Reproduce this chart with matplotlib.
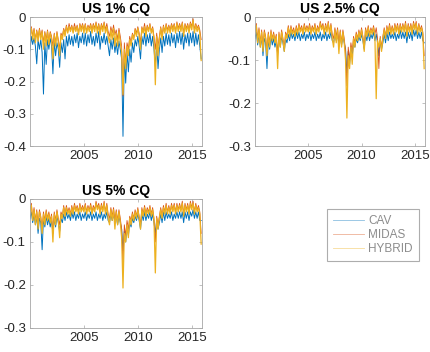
import numpy as np
import matplotlib
matplotlib.use("Agg")
import matplotlib.pyplot as plt

plt.rcParams['font.family'] = ['Liberation Sans', 'DejaVu Sans']

# sample dates: 8 per year, 2000.0 ... 2015.875
years = np.arange(2000, 2016, 0.125)

titles = ["US 1% CQ", "US 2.5% CQ", "US 5% CQ"]
series_names = ["CAV", "MIDAS", "HYBRID"]
colors = ["#0072BD", "#D95319", "#EDB120"]
xticks = [2005, 2010, 2015]
yticks_1 = [0, -0.1, -0.2, -0.3, -0.4]
yticks_2 = [0, -0.1, -0.2, -0.3]
ylabels_1 = ["0", "-0.1", "-0.2", "-0.3", "-0.4"]
ylabels_2 = ["0", "-0.1", "-0.2", "-0.3"]

# ---- US 1% ----
cav_1 = [
    -0.105, -0.06, -0.085, -0.065, -0.09, -0.145, -0.07, -0.10,
    -0.07, -0.11, -0.239, -0.08, -0.147, -0.07, -0.10, -0.065,
    -0.09, -0.176, -0.075, -0.12, -0.08, -0.10, -0.156, -0.08,
    -0.11, -0.07, -0.13, -0.06, -0.09, -0.055, -0.085, -0.06,
    -0.09, -0.055, -0.08, -0.05, -0.095, -0.06, -0.08, -0.05,
    -0.085, -0.05, -0.09, -0.055, -0.08, -0.045, -0.085, -0.06,
    -0.09, -0.05, -0.08, -0.045, -0.10, -0.06, -0.08, -0.05,
    -0.085, -0.06, -0.09, -0.12, -0.07, -0.10, -0.065, -0.11,
    -0.08, -0.116, -0.075, -0.10, -0.13, -0.37, -0.12, -0.205,
    -0.11, -0.17, -0.10, -0.14, -0.08, -0.11, -0.07, -0.09,
    -0.06, -0.09, -0.13, -0.06, -0.085, -0.05, -0.09, -0.055,
    -0.08, -0.05, -0.09, -0.06, -0.10, -0.153, -0.08, -0.16,
    -0.10, -0.065, -0.11, -0.06, -0.09, -0.05, -0.085, -0.055,
    -0.09, -0.05, -0.08, -0.055, -0.095, -0.05, -0.08, -0.045,
    -0.085, -0.05, -0.10, -0.055, -0.08, -0.05, -0.09, -0.05,
    -0.08, -0.045, -0.09, -0.05, -0.085, -0.055, -0.09, -0.13,
]
midas_1 = [
    -0.05, -0.03, -0.06, -0.035, -0.07, -0.04, -0.065, -0.035,
    -0.06, -0.04, -0.08, -0.045, -0.07, -0.04, -0.075, -0.045,
    -0.06, -0.09, -0.05, -0.08, -0.045, -0.07, -0.10, -0.05,
    -0.06, -0.035, -0.05, -0.025, -0.045, -0.02, -0.04, -0.025,
    -0.045, -0.02, -0.04, -0.025, -0.05, -0.02, -0.035, -0.02,
    -0.04, -0.02, -0.045, -0.025, -0.035, -0.02, -0.04, -0.02,
    -0.035, -0.015, -0.04, -0.02, -0.045, -0.02, -0.035, -0.015,
    -0.04, -0.02, -0.045, -0.06, -0.03, -0.05, -0.025, -0.055,
    -0.04, -0.07, -0.035, -0.06, -0.09, -0.245, -0.08, -0.14,
    -0.08, -0.10, -0.06, -0.08, -0.05, -0.065, -0.035, -0.05,
    -0.03, -0.05, -0.08, -0.03, -0.045, -0.02, -0.05, -0.025,
    -0.04, -0.02, -0.045, -0.03, -0.06, -0.10, -0.05, -0.09,
    -0.06, -0.03, -0.06, -0.025, -0.045, -0.02, -0.04, -0.025,
    -0.04, -0.02, -0.035, -0.02, -0.045, -0.015, -0.035, -0.02,
    -0.035, -0.015, -0.05, -0.02, -0.035, -0.02, -0.04, -0.015,
    -0.03, -0.005, -0.04, -0.02, -0.035, -0.025, -0.04, -0.07,
]
hybrid_1 = [
    -0.06, -0.035, -0.07, -0.04, -0.08, -0.045, -0.075, -0.04,
    -0.07, -0.045, -0.10, -0.05, -0.09, -0.045, -0.085, -0.05,
    -0.07, -0.13, -0.055, -0.09, -0.05, -0.08, -0.12, -0.055,
    -0.07, -0.04, -0.06, -0.03, -0.05, -0.03, -0.045, -0.03,
    -0.05, -0.03, -0.045, -0.03, -0.055, -0.025, -0.045, -0.025,
    -0.05, -0.025, -0.05, -0.03, -0.045, -0.025, -0.05, -0.025,
    -0.045, -0.02, -0.05, -0.025, -0.055, -0.025, -0.045, -0.02,
    -0.05, -0.03, -0.06, -0.08, -0.04, -0.07, -0.035, -0.09,
    -0.05, -0.09, -0.045, -0.08, -0.11, -0.24, -0.10, -0.16,
    -0.09, -0.12, -0.07, -0.09, -0.055, -0.07, -0.04, -0.06,
    -0.035, -0.06, -0.10, -0.035, -0.05, -0.03, -0.06, -0.03,
    -0.045, -0.025, -0.05, -0.035, -0.07, -0.21, -0.06, -0.12,
    -0.07, -0.035, -0.07, -0.03, -0.05, -0.025, -0.05, -0.03,
    -0.05, -0.025, -0.045, -0.025, -0.05, -0.02, -0.045, -0.025,
    -0.045, -0.02, -0.06, -0.025, -0.045, -0.025, -0.05, -0.02,
    -0.04, -0.01, -0.05, -0.025, -0.045, -0.03, -0.05, -0.135,
]

# ---- US 2.5% ----
cav_2 = [
    -0.05, -0.035, -0.065, -0.04, -0.07, -0.045, -0.09, -0.05,
    -0.06, -0.12, -0.05, -0.075, -0.045, -0.065, -0.05, -0.07,
    -0.055, -0.085, -0.05, -0.07, -0.045, -0.06, -0.08, -0.05,
    -0.06, -0.04, -0.055, -0.035, -0.05, -0.04, -0.055, -0.035,
    -0.05, -0.035, -0.055, -0.04, -0.05, -0.035, -0.055, -0.04,
    -0.05, -0.035, -0.055, -0.04, -0.05, -0.035, -0.055, -0.04,
    -0.05, -0.035, -0.055, -0.04, -0.05, -0.035, -0.055, -0.04,
    -0.05, -0.035, -0.055, -0.06, -0.04, -0.055, -0.04, -0.06,
    -0.045, -0.065, -0.045, -0.06, -0.075, -0.13, -0.08, -0.11,
    -0.07, -0.09, -0.06, -0.07, -0.05, -0.06, -0.045, -0.055,
    -0.04, -0.055, -0.075, -0.04, -0.055, -0.035, -0.055, -0.04,
    -0.05, -0.035, -0.055, -0.04, -0.06, -0.09, -0.055, -0.075,
    -0.06, -0.04, -0.06, -0.035, -0.055, -0.035, -0.05, -0.04,
    -0.05, -0.035, -0.055, -0.04, -0.05, -0.03, -0.05, -0.035,
    -0.05, -0.035, -0.06, -0.035, -0.05, -0.035, -0.055, -0.03,
    -0.045, -0.03, -0.05, -0.035, -0.05, -0.035, -0.055, -0.06,
]
midas_2 = [
    -0.03, -0.015, -0.05, -0.025, -0.06, -0.03, -0.07, -0.03,
    -0.045, -0.08, -0.035, -0.06, -0.03, -0.05, -0.035, -0.055,
    -0.04, -0.09, -0.035, -0.06, -0.03, -0.05, -0.07, -0.035,
    -0.045, -0.02, -0.04, -0.02, -0.035, -0.025, -0.04, -0.02,
    -0.035, -0.015, -0.03, -0.02, -0.035, -0.015, -0.03, -0.02,
    -0.03, -0.015, -0.035, -0.02, -0.03, -0.015, -0.035, -0.02,
    -0.03, -0.01, -0.025, -0.015, -0.035, -0.015, -0.03, -0.01,
    -0.035, -0.015, -0.04, -0.05, -0.025, -0.045, -0.025, -0.06,
    -0.03, -0.06, -0.03, -0.05, -0.08, -0.16, -0.07, -0.10,
    -0.06, -0.08, -0.045, -0.06, -0.035, -0.05, -0.03, -0.045,
    -0.025, -0.045, -0.07, -0.025, -0.04, -0.02, -0.04, -0.025,
    -0.035, -0.02, -0.04, -0.025, -0.05, -0.12, -0.045, -0.07,
    -0.045, -0.025, -0.045, -0.02, -0.035, -0.015, -0.035, -0.02,
    -0.035, -0.015, -0.03, -0.015, -0.035, -0.015, -0.03, -0.015,
    -0.03, -0.01, -0.04, -0.015, -0.03, -0.015, -0.035, -0.01,
    -0.025, -0.01, -0.035, -0.015, -0.03, -0.02, -0.035, -0.09,
]
hybrid_2 = [
    -0.035, -0.02, -0.06, -0.03, -0.07, -0.035, -0.08, -0.035,
    -0.05, -0.09, -0.04, -0.07, -0.035, -0.055, -0.04, -0.06,
    -0.045, -0.12, -0.04, -0.07, -0.035, -0.055, -0.08, -0.04,
    -0.05, -0.025, -0.045, -0.025, -0.04, -0.03, -0.045, -0.025,
    -0.04, -0.02, -0.035, -0.025, -0.04, -0.02, -0.035, -0.025,
    -0.035, -0.02, -0.04, -0.025, -0.035, -0.02, -0.04, -0.025,
    -0.035, -0.015, -0.03, -0.02, -0.04, -0.02, -0.035, -0.015,
    -0.04, -0.02, -0.05, -0.07, -0.03, -0.06, -0.03, -0.085,
    -0.035, -0.07, -0.035, -0.06, -0.10, -0.235, -0.09, -0.12,
    -0.07, -0.11, -0.05, -0.07, -0.04, -0.055, -0.035, -0.05,
    -0.03, -0.05, -0.08, -0.03, -0.045, -0.025, -0.045, -0.03,
    -0.04, -0.025, -0.045, -0.19, -0.055, -0.07, -0.05, -0.08,
    -0.05, -0.03, -0.05, -0.025, -0.04, -0.02, -0.04, -0.025,
    -0.04, -0.02, -0.035, -0.02, -0.04, -0.02, -0.035, -0.02,
    -0.035, -0.015, -0.045, -0.02, -0.035, -0.02, -0.04, -0.015,
    -0.03, -0.015, -0.04, -0.02, -0.035, -0.025, -0.04, -0.12,
]

# ---- US 5% ----
cav_3 = [
    -0.045, -0.03, -0.055, -0.035, -0.06, -0.04, -0.08, -0.045,
    -0.055, -0.118, -0.045, -0.065, -0.04, -0.06, -0.045, -0.065,
    -0.05, -0.08, -0.045, -0.065, -0.04, -0.055, -0.075, -0.045,
    -0.055, -0.035, -0.05, -0.03, -0.045, -0.035, -0.05, -0.03,
    -0.045, -0.03, -0.05, -0.035, -0.045, -0.03, -0.05, -0.035,
    -0.045, -0.03, -0.05, -0.035, -0.045, -0.03, -0.05, -0.035,
    -0.045, -0.03, -0.05, -0.035, -0.045, -0.03, -0.05, -0.035,
    -0.045, -0.03, -0.05, -0.055, -0.035, -0.05, -0.035, -0.055,
    -0.04, -0.06, -0.04, -0.055, -0.07, -0.12, -0.075, -0.10,
    -0.065, -0.085, -0.055, -0.065, -0.045, -0.055, -0.04, -0.05,
    -0.035, -0.05, -0.07, -0.035, -0.05, -0.03, -0.05, -0.035,
    -0.045, -0.03, -0.05, -0.035, -0.055, -0.08, -0.05, -0.07,
    -0.055, -0.035, -0.055, -0.03, -0.05, -0.03, -0.045, -0.035,
    -0.045, -0.03, -0.05, -0.035, -0.045, -0.03, -0.045, -0.03,
    -0.045, -0.03, -0.055, -0.03, -0.045, -0.03, -0.05, -0.03,
    -0.04, -0.025, -0.045, -0.03, -0.045, -0.03, -0.05, -0.05,
]
midas_3 = [
    -0.025, -0.01, -0.045, -0.02, -0.05, -0.025, -0.06, -0.025,
    -0.04, -0.07, -0.03, -0.05, -0.025, -0.045, -0.03, -0.05,
    -0.035, -0.08, -0.03, -0.05, -0.025, -0.045, -0.06, -0.03,
    -0.04, -0.015, -0.035, -0.015, -0.03, -0.02, -0.035, -0.015,
    -0.03, -0.01, -0.025, -0.015, -0.03, -0.01, -0.025, -0.015,
    -0.025, -0.01, -0.03, -0.015, -0.025, -0.01, -0.03, -0.015,
    -0.025, -0.005, -0.02, -0.01, -0.03, -0.01, -0.025, -0.005,
    -0.03, -0.01, -0.035, -0.045, -0.02, -0.04, -0.02, -0.05,
    -0.025, -0.05, -0.025, -0.045, -0.07, -0.15, -0.06, -0.085,
    -0.05, -0.07, -0.04, -0.05, -0.03, -0.045, -0.025, -0.04,
    -0.02, -0.04, -0.06, -0.02, -0.035, -0.015, -0.035, -0.02,
    -0.03, -0.015, -0.035, -0.02, -0.045, -0.10, -0.04, -0.06,
    -0.04, -0.02, -0.04, -0.015, -0.03, -0.01, -0.03, -0.015,
    -0.03, -0.01, -0.025, -0.01, -0.03, -0.01, -0.025, -0.01,
    -0.025, -0.005, -0.035, -0.01, -0.025, -0.01, -0.03, -0.005,
    -0.02, -0.005, -0.03, -0.01, -0.025, -0.015, -0.03, -0.08,
]
hybrid_3 = [
    -0.03, -0.015, -0.05, -0.025, -0.06, -0.03, -0.07, -0.03,
    -0.045, -0.08, -0.035, -0.06, -0.03, -0.05, -0.035, -0.055,
    -0.04, -0.10, -0.035, -0.06, -0.03, -0.05, -0.09, -0.035,
    -0.045, -0.02, -0.04, -0.02, -0.035, -0.025, -0.04, -0.02,
    -0.035, -0.015, -0.03, -0.02, -0.035, -0.015, -0.03, -0.02,
    -0.03, -0.015, -0.035, -0.02, -0.03, -0.015, -0.035, -0.02,
    -0.03, -0.01, -0.025, -0.015, -0.035, -0.015, -0.03, -0.01,
    -0.035, -0.015, -0.045, -0.06, -0.025, -0.05, -0.025, -0.07,
    -0.03, -0.06, -0.03, -0.055, -0.09, -0.207, -0.08, -0.10,
    -0.06, -0.09, -0.045, -0.06, -0.035, -0.05, -0.03, -0.045,
    -0.025, -0.045, -0.07, -0.025, -0.04, -0.02, -0.04, -0.025,
    -0.035, -0.02, -0.04, -0.025, -0.05, -0.172, -0.045, -0.07,
    -0.045, -0.025, -0.045, -0.02, -0.035, -0.015, -0.035, -0.02,
    -0.035, -0.015, -0.03, -0.015, -0.035, -0.015, -0.03, -0.015,
    -0.03, -0.01, -0.04, -0.015, -0.03, -0.015, -0.035, -0.01,
    -0.025, -0.01, -0.035, -0.015, -0.03, -0.02, -0.035, -0.105,
]

panels = [
    ([cav_1, midas_1, hybrid_1], yticks_1, ylabels_1, -0.4),
    ([cav_2, midas_2, hybrid_2], yticks_2, ylabels_2, -0.3),
    ([cav_3, midas_3, hybrid_3], yticks_2, ylabels_2, -0.3),
]
positions = [
    [0.0696, 0.5852, 0.399, 0.3665],
    [0.5916, 0.5852, 0.3944, 0.3665],
    [0.0696, 0.0682, 0.399, 0.3665],
]
widths = [0.7, 0.6, 0.9]

fig = plt.figure(figsize=(4.31, 3.52), dpi=100)
spine_col = "#a6a6a6"
text_col = "#262626"

handles = []
for i in range(3):
    ax = fig.add_axes(positions[i])
    data, yt, yl, ymin = panels[i]
    for j in range(3):
        h, = ax.plot(years, data[j], color=colors[j], lw=widths[j])
        if i == 0:
            handles.append(h)
    ax.set_xlim(2000, 2015.95)
    ax.set_ylim(ymin, 0)
    ax.set_xticks(xticks)
    ax.set_yticks(yt)
    ax.set_yticklabels(yl)
    ax.set_title(titles[i], fontsize=10, fontweight="bold", color="black", pad=3)
    ax.tick_params(direction="in", length=2, width=0.5, color=spine_col,
                   labelsize=9.5, labelcolor=text_col, pad=3,
                   top=True, right=True)
    for s in ax.spines.values():
        s.set_color(spine_col)
        s.set_linewidth(0.6)

leg = fig.legend(handles, series_names, loc="center",
                 bbox_to_anchor=(0.7726, 0.2642, 0.1856, 0.1364),
                 fontsize=8.5, frameon=True, fancybox=False,
                 handlelength=2.6, handletextpad=0.4, labelspacing=0.2,
                 borderpad=0.5)
leg.get_frame().set_edgecolor("#999999")
leg.get_frame().set_linewidth(0.8)
for t in leg.get_texts():
    t.set_color("#8c8c8c")
for l in leg.get_lines():
    l.set_alpha(0.45)
    l.set_linewidth(0.6)

fig.savefig("out.png", dpi=100)
